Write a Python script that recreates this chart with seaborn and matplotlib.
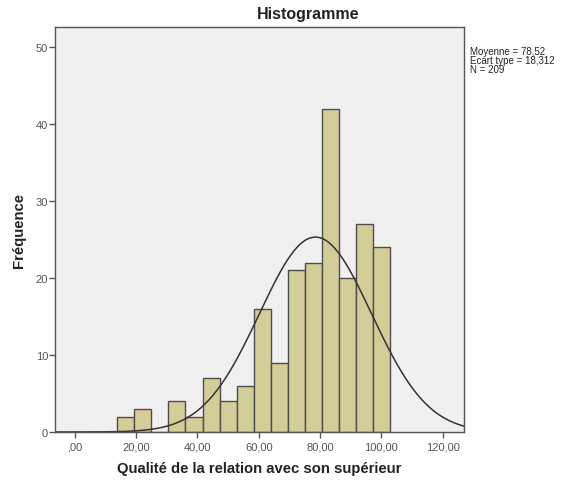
import numpy as np
import pandas as pd
import matplotlib
matplotlib.use("Agg")
import matplotlib.pyplot as plt
import seaborn as sns

# counts per bin
counts = [2, 3, 0, 4, 2, 7, 4, 6, 16, 9, 21, 22, 42, 20, 27, 24]
bin_start = 13.85
bin_width = 5.56
moyenne = 78.52
ecart_type = 18.312
n_obs = 209

edges = bin_start + bin_width * np.arange(len(counts) + 1)
df = pd.DataFrame({'centre': (edges[:-1] + edges[1:]) / 2, 'n': counts})

sns.set_style("white")
plt.rcParams['font.family'] = ['Liberation Sans', 'DejaVu Sans']

fig = plt.figure(figsize=(5.64, 4.81), dpi=100)
ax = fig.add_axes([55 / 564, 1 - 433 / 481, 409 / 564, 405 / 481])
ax.set_facecolor('#f0f0f0')

sns.histplot(data=df, x='centre', weights='n', bins=edges.tolist(), color='#d3ce97',
             alpha=1, edgecolor='#4d4d4d', linewidth=1.0, ax=ax)

# normal curve
xs = np.linspace(-6.5, 127, 400)
dens = np.exp(-0.5 * ((xs - moyenne) / ecart_type) ** 2) / (ecart_type * np.sqrt(2 * np.pi))
ax.plot(xs, dens * n_obs * bin_width, color='#333333', lw=1.1)

ax.set_xlim(-6.5, 127)
ax.set_ylim(0, 52.6)
xt = [0, 20, 40, 60, 80, 100, 120]
ax.set_xticks(xt)
ax.set_xticklabels([',00' if v == 0 else f'{v},00' for v in xt])
ax.set_yticks([0, 10, 20, 30, 40, 50])
ax.tick_params(axis='both', bottom=True, left=True, direction='out', length=4,
               width=1, color='#555555', labelcolor='#555555', labelsize=8, pad=1)
ax.tick_params(axis='x', pad=3)
for s in ax.spines.values():
    s.set_color('#555555')
    s.set_linewidth(1)

ax.set_xlabel('Qualité de la relation avec son supérieur', fontsize=10.7,
              fontweight='bold', labelpad=7, color='#222222')
ax.set_ylabel('Fréquence', fontsize=10.7, fontweight='bold', labelpad=7, color='#222222')
fig.text(308 / 564, 1 - 15 / 481, 'Histogramme', ha='center', va='center',
         fontsize=11.5, fontweight='bold', color='#222222')
fig.text(470 / 564, 1 - 47 / 481,
         f'Moyenne = 78,52\nEcart type = 18,312\nN = {n_obs}',
         ha='left', va='top', fontsize=7, linespacing=0.9, color='#222222')

fig.savefig('out.png', dpi=100)
